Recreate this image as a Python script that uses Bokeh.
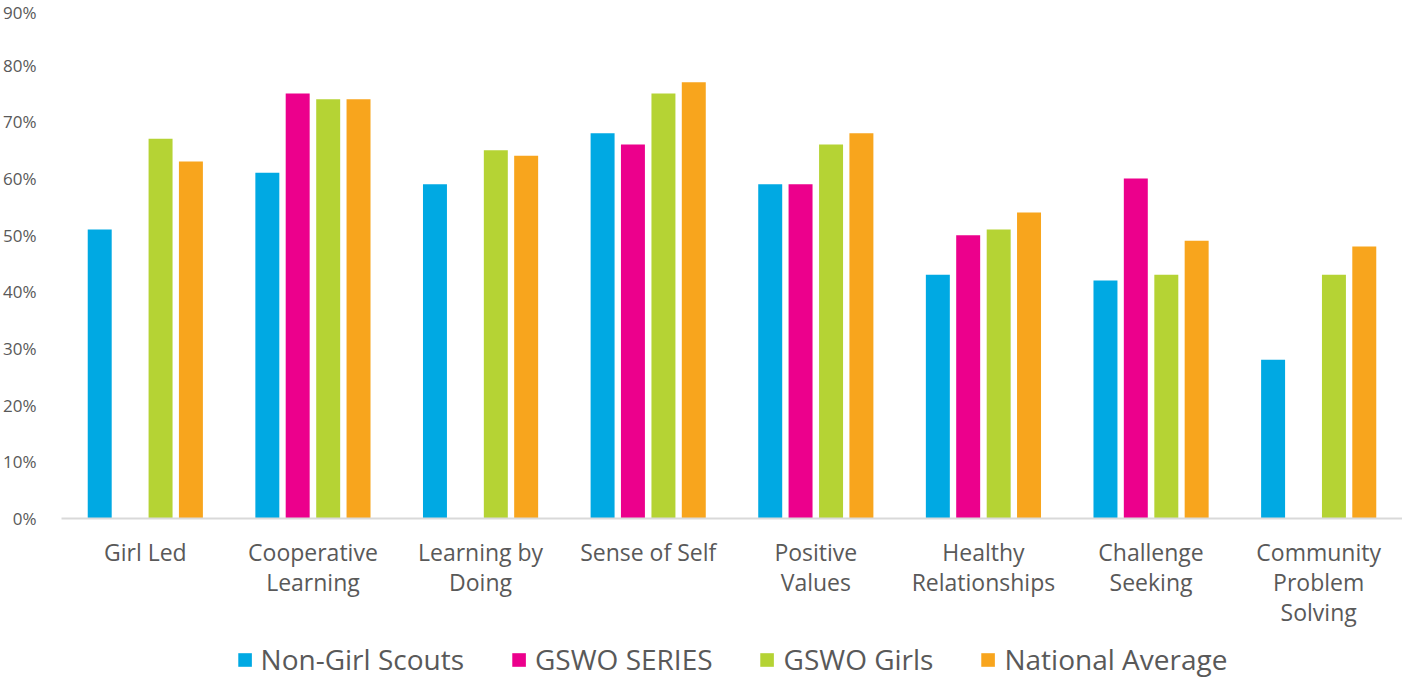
from bokeh.plotting import figure
from bokeh.models import FactorRange, Legend, LegendItem, ColumnDataSource
from bokeh.layouts import column
from bokeh.transform import dodge
from bokeh.embed import file_html
from bokeh.resources import INLINE

nan = float("nan")
categories = ["Girl Led", "Cooperative\nLearning", "Learning by\nDoing", "Sense of Self",
              "Positive\nValues", "Healthy\nRelationships", "Challenge\nSeeking",
              "Community\nProblem\nSolving"]
non_girl_scouts = [51, 61, 59, 68, 59, 43, 42, 28]
gswo_series = [nan, 75, nan, 66, 59, 50, 60, nan]
gswo_girls = [67, 74, 65, 75, 66, 51, 43, 43]
national_average = [63, 74, 64, 77, 68, 54, 49, 48]
series_names = ["Non-Girl Scouts", "GSWO SERIES", "GSWO Girls", "National Average"]
colors = ["#00A9E3", "#EC008C", "#B5D334", "#F8A51D"]
y_ticks = [0, 10, 20, 30, 40, 50, 60, 70, 80, 90]

src = ColumnDataSource(dict(cat=categories, s0=non_girl_scouts, s1=gswo_series,
                            s2=gswo_girls, s3=national_average))

FONT = "Open Sans"
GRAY = "#595959"

p = figure(x_range=FactorRange(*categories, range_padding=0), y_range=(0, 90),
           width=1402, height=640, output_backend="svg", toolbar_location=None,
           min_border_left=56, min_border_right=0, min_border_top=8, min_border_bottom=122)
p.outline_line_color = None
p.xgrid.grid_line_color = None
p.ygrid.grid_line_color = None

offsets = [-0.272, -0.091, 0.091, 0.272]
for i, (name, col, off) in enumerate(zip(series_names, colors, offsets)):
    p.vbar(x=dodge("cat", off, range=p.x_range), top="s%d" % i, width=0.143,
           source=src, fill_color=col, line_color=None)

p.yaxis.ticker = y_ticks
p.yaxis.major_label_overrides = {t: "%d%%" % t for t in y_ticks}
p.yaxis.axis_line_color = None
p.yaxis.major_tick_line_color = None
p.yaxis.minor_tick_line_color = None
p.yaxis.major_label_text_font = FONT
p.yaxis.major_label_text_font_size = "17px"
p.yaxis.major_label_text_color = GRAY
p.yaxis.major_label_standoff = 19

p.xaxis.axis_line_color = "#D9D9D9"
p.xaxis.axis_line_width = 2
p.xaxis.major_tick_line_color = None
p.xaxis.minor_tick_line_color = None
p.xaxis.major_label_text_font = FONT
p.xaxis.major_label_text_font_size = "23px"
p.xaxis.major_label_text_color = GRAY
p.xaxis.major_label_standoff = 11
p.xaxis.major_label_text_line_height = 0.95

# legend strip (dummy glyphs placed outside the visible range)
p2 = figure(width=1402, height=38, output_backend="svg", toolbar_location=None,
            x_range=(0, 1), y_range=(0, 1), min_border=0)
p2.axis.visible = False
p2.grid.visible = False
p2.outline_line_color = None
items = []
for name, col in zip(series_names, colors):
    r = p2.quad(left=[2], right=[3], bottom=[2], top=[3], fill_color=col, line_color=None)
    items.append(LegendItem(label=name, renderers=[r]))

legend = Legend(items=items, orientation="horizontal", location="center",
                label_text_font=FONT, label_text_font_size="28px",
                label_text_color=GRAY, glyph_width=17, glyph_height=17,
                spacing=46, label_standoff=8, border_line_color=None,
                background_fill_alpha=0, padding=0, margin=0)
p2.add_layout(legend, "center")

layout = column(p, p2, spacing=0)
open("out.html", "w").write(file_html(layout, INLINE))
